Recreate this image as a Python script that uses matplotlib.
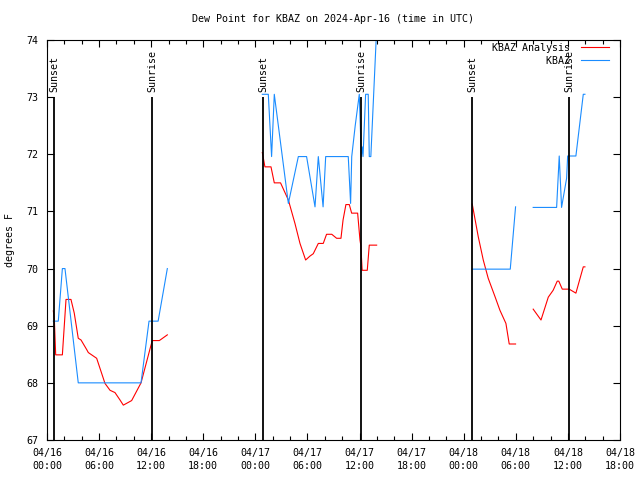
import matplotlib
matplotlib.use('Agg')
import matplotlib.pyplot as plt
import numpy as np

nan = np.nan

# hours since 2024-04-16 00:00 UTC
analysis_hours = [0.73, 0.85, 1.0, 1.77, 2.19, 2.76, 3.14, 3.6, 3.92, 4.58, 4.76, 5.72, 6.68, 7.26,
                  7.83, 8.41, 8.79, 9.75, 10.83, 11.98, 12.13, 12.94, 13.86, nan,
                  24.8, 24.9, 25.1, 25.8, 26.18, 26.9, 27.8, 28.56, 29.14, 29.79, 30.3, 30.67, 31.25,
                  31.82, 32.2, 32.8, 33.36, 33.86, 34.1, 34.43, 34.82, 35.09, 35.78, 36.05, 36.15,
                  36.3, 36.89, 37.12, 37.97, nan,
                  48.98, 49.67, 50.25, 50.82, 51.6, 52.17, 52.86, 53.24, 53.97, nan,
                  56.0, 56.9, 57.74, 58.3, 58.77, 58.95, 59.35, 60.15, 60.92, 61.77, 61.96]
analysis_values = [69.26, 69.1, 68.49, 68.49, 69.46, 69.46, 69.22, 68.78, 68.75, 68.58, 68.53, 68.43, 67.99, 67.87,
                   67.83, 67.70, 67.61, 67.69, 68.0, 68.66, 68.74, 68.74, 68.84, nan,
                   72.03, 71.95, 71.78, 71.78, 71.50, 71.50, 71.2, 70.79, 70.44, 70.15, 70.22, 70.26, 70.44,
                   70.44, 70.60, 70.60, 70.53, 70.53, 70.85, 71.12, 71.12, 70.97, 70.97, 70.5, 70.4,
                   69.97, 69.97, 70.41, 70.41, nan,
                   71.13, 70.56, 70.15, 69.83, 69.51, 69.27, 69.04, 68.68, 68.68, nan,
                   69.29, 69.10, 69.50, 69.62, 69.78, 69.78, 69.64, 69.64, 69.57, 70.03, 70.03]

obs_hours = [0.73, 1.3, 1.77, 2.07, 3.6, 10.83, 11.75, 12.8, 13.86, nan,
             24.8, 25.49, 25.87, 26.18, 27.8, 28.95, 29.9, 30.87, 31.25, 31.8, 32.1, 34.7, 34.97,
             35.1, 35.5, 35.97, 36.2, 36.3, 36.4, 36.7, 37.0, 37.12, 37.3, 38.0, nan,
             48.98, 53.36, 53.97, nan,
             56.0, 58.7, 59.0, 59.27, 59.85, 59.97, 60.92, 61.77, 61.96]
obs_values = [69.08, 69.08, 70.0, 70.0, 68.0, 68.0, 69.08, 69.08, 70.0, nan,
              73.05, 73.05, 71.96, 73.05, 71.14, 71.96, 71.96, 71.08, 71.96, 71.08, 71.96, 71.96, 71.14,
              71.96, 72.5, 73.05, 71.96, 72.13, 71.96, 73.05, 73.05, 71.96, 71.96, 74.3, nan,
              69.99, 69.99, 71.08, nan,
              71.07, 71.07, 71.97, 71.07, 71.58, 71.97, 71.97, 73.05, 73.05]

event_hours = [0.85, 12.13, 24.9, 36.18, 48.97, 60.15]
event_labels = ['Sunset', 'Sunrise', 'Sunset', 'Sunrise', 'Sunset', 'Sunrise']

tick_hours = [0, 6, 12, 18, 24, 30, 36, 42, 48, 54, 60, 66]
tick_labels = ['04/16\n00:00', '04/16\n06:00', '04/16\n12:00', '04/16\n18:00',
               '04/17\n00:00', '04/17\n06:00', '04/17\n12:00', '04/17\n18:00',
               '04/18\n00:00', '04/18\n06:00', '04/18\n12:00', '04/18\n18:00']
y_ticks = [67, 68, 69, 70, 71, 72, 73, 74]

title = 'Dew Point for KBAZ on 2024-Apr-16 (time in UTC)'

plt.rcParams['font.family'] = ['DejaVu Sans Mono']
plt.rcParams['font.size'] = 7.2

fig = plt.figure(figsize=(6.4, 4.8), dpi=100)
ax = fig.add_axes([47 / 640, 40 / 480, (620 - 47) / 640, 400 / 480])

ax.plot(analysis_hours, analysis_values, color='#ff0000', lw=0.8, label='KBAZ Analysis')
ax.plot(obs_hours, obs_values, color='#1a8cff', lw=0.8, label='         KBAZ')

ax.vlines(event_hours, 67, 73, color='black', lw=1.3)
for h, lab in zip(event_hours, event_labels):
    ax.text(h, 73.09, lab, rotation=90, ha='center', va='bottom')

ax.set_xlim(0, 66)
ax.set_ylim(67, 74)
ax.set_xticks(tick_hours)
ax.set_xticklabels(tick_labels, linespacing=1.35)
ax.set_xticks(np.arange(0, 66, 2), minor=True)
ax.set_yticks(y_ticks)
ax.tick_params(which='major', direction='in', top=True, right=True, length=5, width=0.8, pad=6)
ax.tick_params(which='minor', direction='in', top=True, length=3, width=0.8)
for s in ax.spines.values():
    s.set_linewidth(0.8)

ax.set_ylabel('degrees F')
ax.yaxis.set_label_coords(-0.055, 0.5)

fig.text(332.5 / 640, 1 - 19 / 480, title, ha='center', va='center')

ax.legend(loc='upper right', bbox_to_anchor=((609 - 47) / 573, (440 - 43) / 400), frameon=False,
          markerfirst=False, handlelength=2.8, handletextpad=1.1, borderpad=0, borderaxespad=0,
          labelspacing=0.3)

fig.savefig('out.png', dpi=100)
